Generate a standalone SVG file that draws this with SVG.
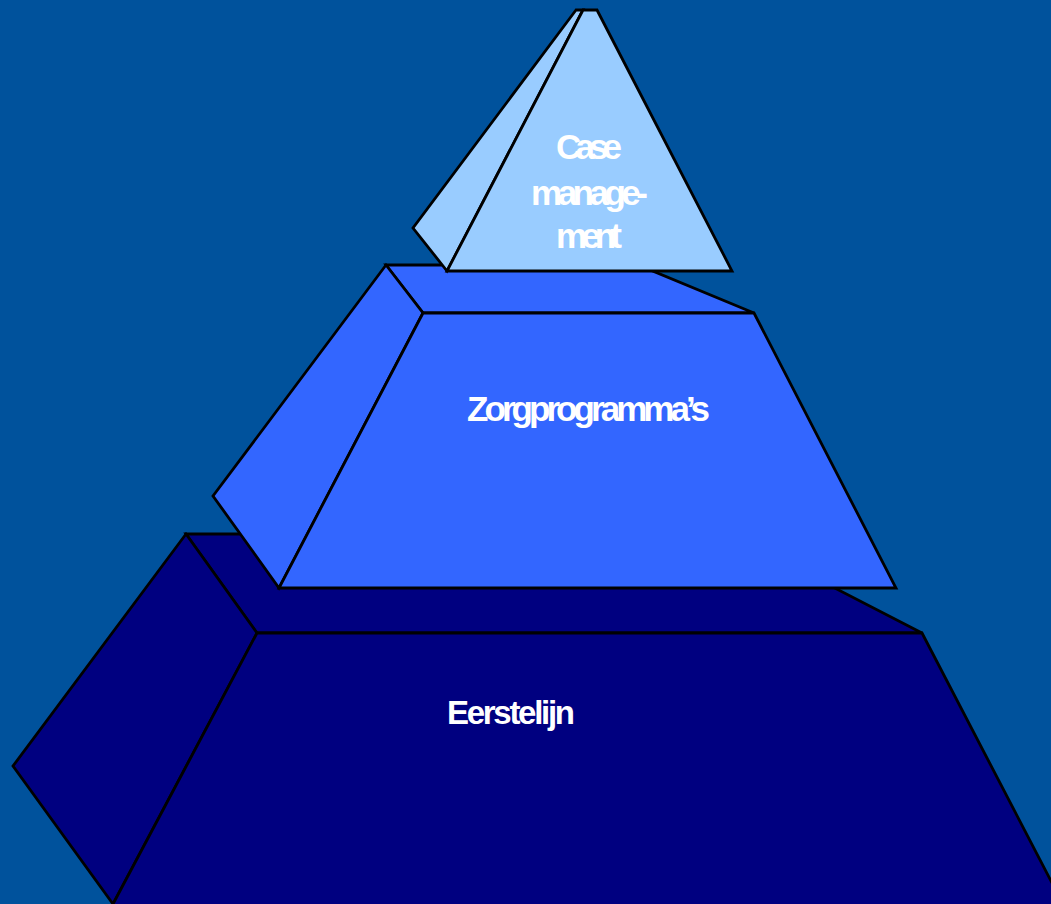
<svg xmlns="http://www.w3.org/2000/svg" width="1051" height="904" viewBox="0 0 1051 904">
<style>
.e{stroke:#000;stroke-width:2.8;stroke-linejoin:miter}
.t1{fill:#000080}
.t2{fill:#3366FF}
.t3{fill:#99CCFF}
.lbl{font-family:"Liberation Sans",Arial,sans-serif;font-weight:bold;fill:#fff;text-anchor:start}
</style>
<rect x="0" y="0" width="1051" height="904" fill="#00529C"/>
<g id="eerstelijn">
<polygon class="e t1" points="186,534 730,534 922,633 257,633"/>
<polygon class="e t1" points="186,534 13,766 113,904 257,633"/>
<polygon class="e t1" points="257,633 922,633 1064,906 112,906"/>
<text class="lbl" x="447" y="724" font-size="33" textLength="128" lengthAdjust="spacing">Eerstelijn</text>
</g>
<g id="zorgprogrammas">
<polygon class="e t2" points="386,265 638,265 754,313 423,313"/>
<polygon class="e t2" points="386,265 213,496 279,588 423,313"/>
<polygon class="e t2" points="423,313 754,313 896,588 279,588"/>
<text class="lbl" x="467" y="421" font-size="35" textLength="243" lengthAdjust="spacing">Zorgprogramma’s</text>
</g>
<g id="casemanagement">
<polygon class="e t3" points="576,10 413,228 447,271 583,10"/>
<polygon class="e t3" points="583,10 597,10 732,271 447,271"/>
<text class="lbl" font-size="35">
<tspan x="556" y="159" textLength="66" lengthAdjust="spacing">Case</tspan>
<tspan x="531" y="205" textLength="117" lengthAdjust="spacing">manage-</tspan>
<tspan x="556" y="248" textLength="66" lengthAdjust="spacing">ment</tspan>
</text>
</g>
<g id="connectors"/>
</svg>
